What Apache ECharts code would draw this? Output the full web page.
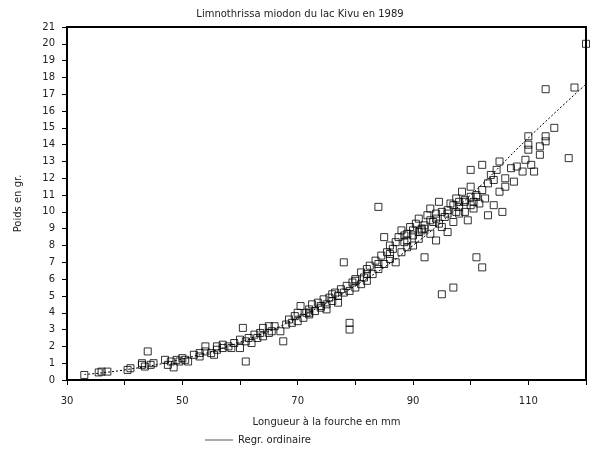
<!DOCTYPE html>
<html>
<head>
<meta charset="utf-8">
<script src="https://cdn.jsdelivr.net/npm/echarts@6/dist/echarts.min.js"></script>
<style>html,body{margin:0;padding:0;background:#fff}#chart{width:600px;height:450px}</style>
</head>
<body>
<div id="chart"></div>
<script>
// longueur (mm), poids (g)
var longueur = [33,35.5,36,37,40.5,41,43,43,43.5,44,44.5,45,47,47.5,48,48.5,49,49.5,50,50.5,51,52,53,53,54,54,55,55.5,56,56,57,57,58,58.5,59,60,60,60.5,61,61,61.5,62,62.5,63,63.5,64,64,65,65,65.5,66,67,67.5,68,68.5,69,69.5,70,70,70.5,71,71.5,72,72,72.5,73,73.5,74,74.5,75,75,75.5,76,76.5,77,77,77.5,78,78,78.5,79,79,79,79.5,80,80,81,81,81.5,82,82,82.5,83,83.5,84,84,84.5,85,85,85.5,86,86,86.5,87,87,87.5,88,88,88.5,89,89,89.5,90,90,90.5,91,91,91.5,92,92,92.5,93,93,93.5,94,94,94.5,95,95,95.5,96,96,96.5,97,97,97.5,98,98,98.5,99,99,99.5,100,100,100,100.5,101,101,101.5,102,102,102,102.5,103,103,103.5,104,104,104.5,105,105,105.5,106,106,107,107.5,108,109,109.5,110,110,110,110.5,111,112,112,113,113,113,114.5,117,118,120,
  89,90,91,92,93,94,95,96,97,98,99,100,101,88.5,91.5,94.5,97.5,100.5,86,84,82,80,76,74,72];
var poids = [0.3,0.45,0.5,0.5,0.6,0.7,0.9,1.0,0.8,1.7,0.9,1.0,1.2,0.9,1.1,0.75,1.2,1.1,1.3,1.2,1.1,1.5,1.6,1.4,2.0,1.7,1.6,1.5,1.8,2.0,1.9,2.1,2.0,1.9,2.2,1.9,2.4,3.1,2.3,1.1,2.5,2.2,2.7,2.5,2.8,3.1,2.6,3.2,2.8,2.9,3.2,2.9,2.3,3.3,3.6,3.4,3.8,3.5,4.0,4.4,3.7,4.0,4.2,3.9,4.5,4.1,4.6,4.3,4.8,4.5,4.2,4.9,4.7,5.2,5.0,4.6,5.4,5.2,7.0,5.6,3.4,3.0,5.3,5.8,5.5,6.0,5.7,6.4,6.1,6.6,5.9,6.8,6.3,7.1,6.6,10.3,7.4,6.9,8.5,7.6,7.2,8.0,7.8,8.2,7.0,8.5,7.6,8.9,8.2,7.9,8.7,9.1,8.0,8.6,9.3,8.4,9.6,8.9,7.3,9.2,9.8,8.7,10.2,9.4,8.3,9.9,10.6,9.1,5.1,9.7,10.1,8.8,10.5,5.5,9.4,10.8,9.9,10.3,11.2,10.0,10.6,9.5,10.9,11.5,12.5,10.2,11.0,7.3,10.5,6.7,11.3,12.8,10.8,11.7,9.8,12.2,10.4,11.9,12.5,13.0,11.2,10.0,12.0,11.5,12.6,11.8,12.7,12.4,13.1,14.0,14.5,13.7,12.8,12.4,13.4,13.9,17.3,14.5,14.2,15.0,13.2,17.4,20.0,
  8.3,8.9,8.8,9.0,9.5,9.6,10.0,9.9,10.4,10.6,10.7,10.4,10.9,8.6,9.0,9.3,10.0,10.6,7.5,6.9,6.3,5.9,5.1,4.4,4.0];
// courbe de régression
var regrX = [33,40,50,60,70,80,90,100,110,120];
var regrY = [0.33,0.6,1.25,2.25,3.7,5.6,8.0,11.0,14.4,17.6];

var chart = echarts.init(document.getElementById('chart'));
var pts = longueur.map(function (x, i) { return [x, poids[i]]; });
var regr = regrX.map(function (x, i) { return [x, regrY[i]]; });
function txt(extra) {
  var o = {color: '#222', fontFamily: 'DejaVu Sans', fontSize: 10};
  for (var k in extra) o[k] = extra[k];
  return o;
}

chart.setOption({
  backgroundColor: '#fff',
  animation: false,
  title: {text: 'Limnothrissa miodon du lac Kivu en 1989', left: 'center', top: 4,
    textStyle: txt({fontWeight: 'normal'})},
  legend: {data: [{name: 'Regr. ordinaire', icon: 'rect'}], left: 200, top: 430, itemWidth: 28, itemHeight: 1,
    textStyle: txt({})},
  grid: {left: 67, right: 14, top: 27, bottom: 70, show: true, borderColor: '#000', borderWidth: 2},
  xAxis: {type: 'value', min: 30, max: 120, interval: 10,
    name: 'Longueur à la fourche en mm', nameLocation: 'middle', nameGap: 37, nameTextStyle: txt({}),
    axisLine: {lineStyle: {color: '#000', width: 2}},
    axisTick: {lineStyle: {color: '#000'}, length: 5},
    axisLabel: txt({margin: 16, formatter: function (v) { return (v - 30) % 20 === 0 ? String(v) : ''; }}),
    splitLine: {show: false}},
  yAxis: {type: 'value', min: 0, max: 21, interval: 1,
    name: 'Poids en gr.', nameLocation: 'middle', nameGap: 44, nameTextStyle: txt({}),
    axisLine: {show: true, lineStyle: {color: '#000', width: 2}},
    axisTick: {show: true, lineStyle: {color: '#000'}, length: 5},
    axisLabel: txt({margin: 12}),
    splitLine: {show: false}},
  series: [
    {type: 'scatter', name: 'points', data: pts, symbol: 'rect', symbolSize: 7,
      itemStyle: {color: 'rgba(255,255,255,0)', borderColor: '#000', borderWidth: 1}},
    {type: 'line', name: 'Regr. ordinaire', data: regr, smooth: true, showSymbol: false,
      lineStyle: {color: '#000', width: 1, type: [2, 2]}, itemStyle: {color: '#555'}}
  ]
});
</script>
</body>
</html>
